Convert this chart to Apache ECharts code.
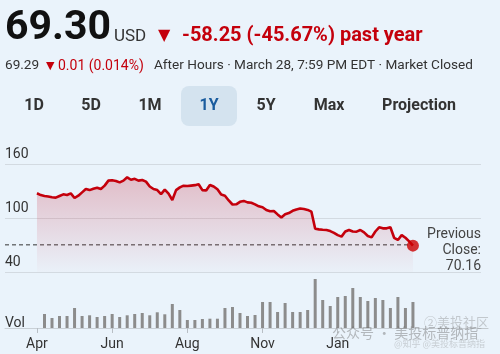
<!DOCTYPE html>
<html><head><meta charset="utf-8">
<script src="https://cdn.jsdelivr.net/npm/echarts@6/dist/echarts.min.js"></script>
<style>html,body{margin:0;padding:0;background:#eaf3fb;}#c{width:500px;height:354px;}</style>
</head><body><div id="c"></div>
<script>
// ---- data ----
const monthLabels = ['Apr', 'Jun', 'Aug', 'Nov', 'Jan'];
const monthTickIdx = [0, 20, 40, 60, 80];
const priceTicks = [40, 100, 160];
const prices = [
  127.5, 125.5, 124.4, 123.8, 123.0, 122.6, 124.5, 126.3, 125.6, 127.4,
  122.2, 124.8, 128.5, 132.2, 131.0, 132.5, 133.7, 132.2, 136.0, 141.5,
  142.0, 141.2, 139.6, 141.5, 145.2, 142.5, 143.5, 141.5, 142.2, 140.4,
  135.0, 132.2, 131.1, 126.5, 131.5, 127.0, 120.0, 131.0, 134.0, 135.9,
  135.5, 136.0, 136.5, 137.5, 131.0, 130.5, 136.7, 135.0, 132.0, 126.0,
  124.8, 119.5, 115.0, 115.2, 118.0, 119.0, 117.4, 117.0, 115.2, 113.0,
  111.9, 108.9, 107.5, 107.8, 104.0, 100.5, 104.1, 105.5, 108.0, 109.5,
  110.5, 110.0, 109.0, 107.0, 88.0, 87.4, 87.0, 86.7, 85.5, 83.5,
  81.0, 79.3, 85.0, 86.7, 85.0, 84.8, 86.7, 84.0, 80.0, 78.5,
  85.0, 89.7, 88.5, 88.5, 89.7, 78.0, 75.6, 81.0, 78.0, 74.0,
  69.3
];
const volumes = [
  14, 10, 12, 12, 20, 12, 12.7, 11, 12, 14,
  11, 12.7, 14, 15, 12.7, 15.7, 13.7, 24, 18, 8,
  8, 9, 9.3, 9.3, 20, 21, 15, 12, 13, 26,
  26, 16, 25, 16, 16, 18, 49, 28, 22, 31,
  32, 40, 31, 27, 30, 28, 20, 31, 20, 26
];
const lastPrice = 69.30;
const prevClose = 70.16;
const afterHours = 69.29;

const chart = echarts.init(document.getElementById('c'), null, {renderer: 'canvas'});
const FONT = 'Roboto, "Noto Sans", sans-serif';
const RED = '#c4000c';
const xMin = -8.5, xMax = 118.1;

const tabs = ['1D', '5D', '1M', '1Y', '5Y', 'Max', 'Projection'];
const tabX = [34, 91, 150, 209, 266, 329, 419];

const graphics = [
  {type: 'rect', shape: {x: 181, y: 86, width: 56, height: 40, r: 8}, style: {fill: '#d4e3ef'}, z: 1},
  {type: 'text', x: 5, y: 29, style: {text: lastPrice.toFixed(2), font: 'bold 41px ' + FONT, fill: '#111', verticalAlign: 'middle'}},
  {type: 'text', x: 114, y: 37, style: {text: 'USD', font: '17px ' + FONT, fill: '#333', verticalAlign: 'middle'}},
  {type: 'text', x: 158, y: 36, style: {text: '▼', font: '16px "DejaVu Sans"', fill: RED, verticalAlign: 'middle'}},
  {type: 'text', x: 182, y: 36, style: {text: '-58.25 (-45.67%) past year', font: 'bold 20px ' + FONT, fill: RED, verticalAlign: 'middle'}},
  {type: 'text', x: 5, y: 66, style: {text: afterHours.toFixed(2), font: '13.6px ' + FONT, fill: '#333', verticalAlign: 'middle'}},
  {type: 'text', x: 46, y: 66, style: {text: '▼', font: '11px "DejaVu Sans"', fill: RED, verticalAlign: 'middle'}},
  {type: 'text', x: 58, y: 66, style: {text: '0.01 (0.014%)', font: '14px ' + FONT, fill: RED, verticalAlign: 'middle'}},
  {type: 'text', x: 154, y: 66, style: {text: 'After Hours · March 28, 7:59 PM EDT · Market Closed', font: '13.6px ' + FONT, fill: '#333', verticalAlign: 'middle'}},
  {type: 'text', x: 481, y: 234, style: {text: 'Previous', font: '14px ' + FONT, fill: '#444', align: 'right', verticalAlign: 'middle'}},
  {type: 'text', x: 481, y: 250, style: {text: 'Close:', font: '14px ' + FONT, fill: '#444', align: 'right', verticalAlign: 'middle'}},
  {type: 'text', x: 481, y: 266, style: {text: prevClose.toFixed(2), font: '14px ' + FONT, fill: '#444', align: 'right', verticalAlign: 'middle'}},
  {type: 'text', x: 5, y: 323, style: {text: 'Vol', font: '14px ' + FONT, fill: '#333', verticalAlign: 'middle'}, z: 10},
  // watermark
  {type: 'text', x: 424, y: 322, style: {text: '②美投社区', font: '13px "Noto Sans CJK SC"', fill: 'rgba(120,120,120,0.35)', verticalAlign: 'middle'}, z: 20},
  {type: 'text', x: 332, y: 333, style: {text: '公众号 · 美投标普纳指', font: '14px "Noto Sans CJK SC"', fill: 'rgba(110,110,110,0.45)', verticalAlign: 'middle'}, z: 20},
  {type: 'text', x: 394, y: 344, style: {text: '@知乎 @美投标普纳指', font: '9px "Noto Sans CJK SC"', fill: 'rgba(120,120,120,0.3)', verticalAlign: 'middle'}, z: 20}
];
tabs.forEach((t, i) => {
  graphics.push({type: 'text', x: tabX[i], y: 106, z: 2, style: {
    text: t, font: 'bold 16px ' + FONT, fill: t === '1Y' ? '#1a5c9e' : '#333',
    align: 'center', verticalAlign: 'middle'}});
});

const option = {
  backgroundColor: '#eaf3fb',
  animation: false,
  graphic: graphics,
  grid: [
    {left: 5, right: 19, top: 164, height: 108},
    {left: 5, right: 19, top: 278, height: 50}
  ],
  xAxis: [
    {type: 'value', gridIndex: 0, min: xMin, max: xMax, show: false},
    {type: 'value', gridIndex: 1, min: xMin, max: xMax,
      axisLine: {show: true, lineStyle: {color: '#c9d0d6', width: 1}},
      axisTick: {show: true, customValues: monthTickIdx, length: 5, lineStyle: {color: '#b8bec4'}},
      axisLabel: {customValues: monthTickIdx, margin: 9, fontSize: 14, fontFamily: FONT, color: '#333',
        formatter: v => monthLabels[monthTickIdx.indexOf(v)] || ''},
      splitLine: {show: false}}
  ],
  yAxis: [
    {type: 'value', gridIndex: 0, min: 40, max: 160,
      axisLine: {show: false},
      axisTick: {show: false, customValues: priceTicks},
      axisLabel: {inside: true, customValues: priceTicks, margin: 0, align: 'left', verticalAlign: 'bottom',
        padding: [0, 0, 3, 0], fontSize: 14, fontFamily: FONT, color: '#333'},
      splitLine: {show: true, lineStyle: {color: '#d3dae1', width: 1}}},
    {type: 'value', gridIndex: 1, min: 0, max: 50, show: false, splitLine: {show: false}}
  ],
  series: [
    {type: 'line', xAxisIndex: 0, yAxisIndex: 0, z: 3,
      data: prices.map((v, i) => [i, v]), showSymbol: false,
      lineStyle: {color: RED, width: 2.6},
      areaStyle: {origin: 'start', color: new echarts.graphic.LinearGradient(0, 0, 0, 1, [
        {offset: 0, color: 'rgba(200,40,60,0.38)'},
        {offset: 1, color: 'rgba(200,40,60,0.02)'}])}},
    {type: 'line', xAxisIndex: 0, yAxisIndex: 0, z: 2, showSymbol: false,
      data: [[xMin, prevClose], [prices.length - 1, prevClose]],
      lineStyle: {color: '#333', width: 1, type: [4, 3]}},
    {type: 'scatter', xAxisIndex: 0, yAxisIndex: 0, z: 5,
      data: [[prices.length - 1, lastPrice]], symbolSize: 12, itemStyle: {color: '#cc0000'}},
    {type: 'bar', xAxisIndex: 1, yAxisIndex: 1, barWidth: 3,
      data: volumes.map((v, k) => [2 * (k + 1), v]), itemStyle: {color: '#8c8c8c'}}
  ]
};
chart.setOption(option);
</script></body></html>
